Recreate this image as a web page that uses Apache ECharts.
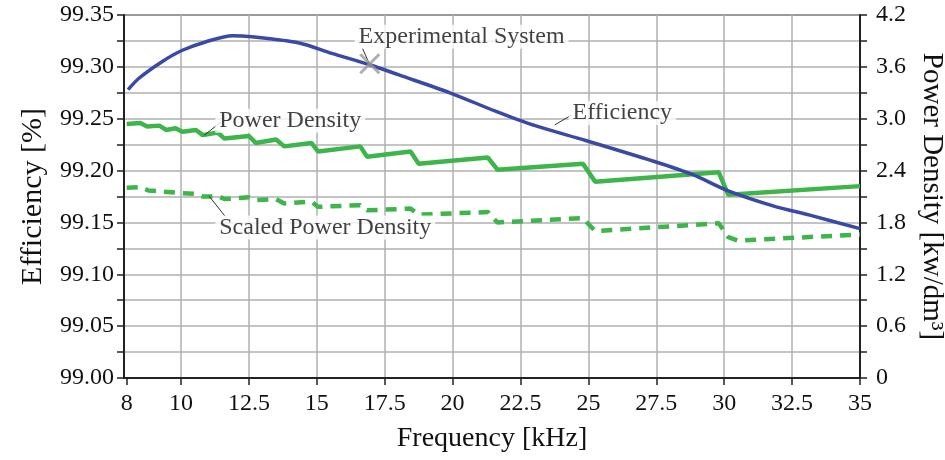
<!DOCTYPE html>
<html>
<head>
<meta charset="utf-8">
<script src="https://cdn.jsdelivr.net/npm/echarts@6/dist/echarts.min.js"></script>
<style>html,body{margin:0;padding:0;background:#fff}#c{width:945px;height:460px}</style>
</head>
<body>
<div id="c"></div>
<script>
// ---- data ----
const xLabelValues = [8, 10, 12.5, 15, 17.5, 20, 22.5, 25, 27.5, 30, 32.5, 35];
const xGridValues = [10, 12.5, 15, 17.5, 20, 22.5, 25, 27.5, 30, 32.5];

const effFreq = [8.05, 8.45, 9.3, 10.05, 10.9, 11.9, 12.6, 14.35, 15.55, 16.95, 18.05, 19.9, 21.6, 22.95, 24.9, 27.4, 28.85, 30.1, 31.8, 33.15, 35];
const effValues = [99.278, 99.289, 99.305, 99.316, 99.324, 99.330, 99.329, 99.323, 99.313, 99.302, 99.292, 99.275, 99.257, 99.244, 99.229, 99.209, 99.196, 99.181, 99.166, 99.157, 99.144];

const pdFreq = [8.0, 8.5, 8.75, 9.2, 9.45, 9.8, 10.05, 10.55, 10.8, 11.35, 11.6, 12.5, 12.75, 13.5, 13.8, 14.8, 15.05, 16.6, 16.85, 18.45, 18.75, 21.3, 21.65, 24.8, 25.25, 29.8, 30.15, 35];
const pdValues = [2.94, 2.95, 2.91, 2.92, 2.87, 2.89, 2.85, 2.87, 2.81, 2.84, 2.77, 2.80, 2.72, 2.76, 2.68, 2.72, 2.62, 2.68, 2.56, 2.62, 2.48, 2.55, 2.41, 2.48, 2.27, 2.38, 2.12, 2.22];

const spdFreq = [8.0, 8.5, 8.8, 10.0, 10.5, 10.8, 11.4, 11.6, 12.5, 12.75, 13.5, 13.8, 14.8, 15.05, 16.6, 16.85, 18.45, 18.75, 21.3, 21.65, 24.8, 25.25, 29.8, 30.15, 30.5, 35];
const spdValues = [2.20, 2.21, 2.17, 2.14, 2.13, 2.10, 2.10, 2.07, 2.09, 2.06, 2.07, 2.02, 2.04, 1.98, 2.00, 1.94, 1.96, 1.89, 1.92, 1.80, 1.85, 1.70, 1.79, 1.63, 1.59, 1.66];

const expFreq = [16.95];
const expEff = [99.303];

// annotation texts and their anchor points (in axis units: kHz, %)
const annotTexts = ['Experimental System', 'Efficiency', 'Power Density', 'Scaled Power Density'];
const annotAt = [[20.33, 99.329], [26.25, 99.2555], [14.02, 99.248], [15.31, 99.145]];
const leaderFrom = [[16.93, 99.303], [23.76, 99.244], [10.85, 99.234], [11.03, 99.1755]];
const leaderTo = [[16.68, 99.318], [24.38, 99.2536], [11.48, 99.247], [11.62, 99.156]];

// ---- chart ----
const FONT = '"Liberation Serif", "DejaVu Serif", serif';
const TXT = '#111';
const GRIDC = '#b0b0b0';
const zip = (a, b) => a.map((v, i) => [v, b[i]]);

const chart = echarts.init(document.getElementById('c'), null, {renderer: 'canvas'});
chart.setOption({
  animation: false,
  backgroundColor: '#fff',
  textStyle: {fontFamily: FONT, color: TXT},
  grid: {left: 124, right: 85, top: 15, bottom: 82, outerBoundsMode: 'none', containLabel: false,
    show: true, borderColor: '#222', borderWidth: 1.5, backgroundColor: 'transparent'},
  xAxis: [{
    type: 'value', min: 7.9, max: 35, position: 'bottom',
    name: 'Frequency [kHz]', nameLocation: 'middle', nameGap: 47,
    nameTextStyle: {fontFamily: FONT, fontSize: 28, color: TXT},
    axisLine: {show: true, onZero: false, lineStyle: {color: '#222', width: 2}},
    axisTick: {show: true, length: 7, customValues: xLabelValues, lineStyle: {color: '#222', width: 1.5}},
    axisLabel: {customValues: xLabelValues, fontFamily: FONT, fontSize: 24, color: TXT, margin: 14, formatter: v => String(v)},
    splitLine: {show: false}
  }, {
    type: 'value', min: 7.9, max: 35, position: 'bottom',
    axisLine: {show: false}, axisLabel: {show: false},
    axisTick: {show: false, customValues: xGridValues},
    splitLine: {show: true, lineStyle: {color: GRIDC, width: 1.5}}
  }],
  yAxis: [{
    type: 'value', min: 99.0, max: 99.35, interval: 0.025, position: 'left',
    name: 'Efficiency [%]', nameLocation: 'middle', nameGap: 76,
    nameTextStyle: {fontFamily: FONT, fontSize: 30, color: TXT},
    axisLine: {show: true, onZero: false, lineStyle: {color: '#222', width: 2}},
    axisTick: {show: true, length: 7, lineStyle: {color: '#222', width: 1.5}},
    axisLabel: {fontFamily: FONT, fontSize: 24, color: TXT, margin: 10,
      formatter: v => (Math.round(v * 1000) % 50 === 0 ? v.toFixed(2) : '')},
    splitLine: {show: true, lineStyle: {color: GRIDC, width: 1.5}}
  }, {
    type: 'value', min: 0, max: 4.2, interval: 0.3, position: 'right',
    name: 'Power Density [kw/dm³]', nameLocation: 'middle', nameGap: 50, nameRotate: -90,
    nameTextStyle: {fontFamily: FONT, fontSize: 29, color: TXT},
    axisLine: {show: true, onZero: false, lineStyle: {color: '#222', width: 2}},
    axisTick: {show: true, length: 7, lineStyle: {color: '#222', width: 1.5}},
    axisLabel: {fontFamily: FONT, fontSize: 24, color: TXT, margin: 16,
      formatter: v => (Math.round(v * 10) % 6 === 0 ? (Math.abs(v) < 1e-9 ? '0' : v.toFixed(1)) : '')},
    splitLine: {show: false}
  }],
  series: [{
    name: 'Efficiency', type: 'line', xAxisIndex: 0, yAxisIndex: 0,
    data: zip(effFreq, effValues), smooth: 0.3, showSymbol: false, z: 4,
    lineStyle: {color: '#3a49a3', width: 3.5},
    markLine: {
      silent: true, symbol: ['none', 'none'], label: {show: false},
      lineStyle: {color: '#333', width: 1, type: 'solid'},
      data: leaderFrom.map((p, i) => [{coord: p}, {coord: leaderTo[i]}])
    }
  }, {
    name: 'Power Density', type: 'line', xAxisIndex: 0, yAxisIndex: 1,
    data: zip(pdFreq, pdValues), showSymbol: false, z: 3,
    lineStyle: {color: '#3db54a', width: 4.5}
  }, {
    name: 'Scaled Power Density', type: 'line', xAxisIndex: 0, yAxisIndex: 1,
    data: zip(spdFreq, spdValues), showSymbol: false, z: 3,
    lineStyle: {color: '#3db54a', width: 4.5, type: [11, 8]}
  }, {
    name: 'Experimental System', type: 'scatter', xAxisIndex: 0, yAxisIndex: 0,
    data: zip(expFreq, expEff), z: 6,
    symbol: 'path://M0,0L10,10M10,0L0,10', symbolSize: 19,
    itemStyle: {color: 'none', borderColor: '#9a9a9a', borderWidth: 3}
  }, {
    name: 'annotations', type: 'scatter', xAxisIndex: 0, yAxisIndex: 0,
    data: annotAt.map((p, i) => ({name: annotTexts[i], value: p})),
    symbolSize: 1, z: 5, silent: true,
    itemStyle: {color: 'transparent'},
    label: {show: true, position: 'inside', formatter: p => p.name,
      fontFamily: FONT, fontSize: 24, color: TXT, backgroundColor: '#fff', padding: [0, 4]}
  }]
});
</script>
</body>
</html>
